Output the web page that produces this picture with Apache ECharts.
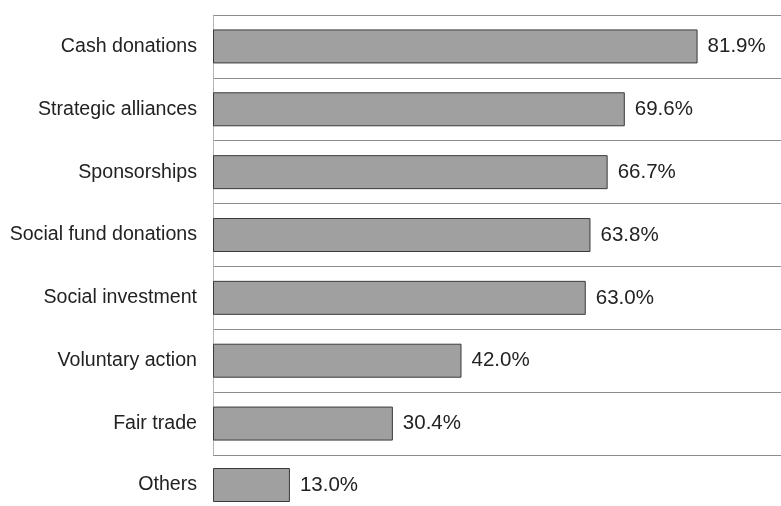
<!DOCTYPE html>
<html>
<head>
<meta charset="utf-8">
<style>
  html, body { margin: 0; padding: 0; background: #fff; }
  #chart { width: 781px; height: 506px; }
</style>
<script src="https://cdn.jsdelivr.net/npm/echarts@6/dist/echarts.min.js"></script>
</head>
<body>
<div id="chart"></div>
<script>
// categories, top to bottom
const categories = ['Cash donations', 'Strategic alliances', 'Sponsorships', 'Social fund donations',
  'Social investment', 'Voluntary action', 'Fair trade', 'Others'];
// share of companies, %
const values = [81.9, 69.6, 66.7, 63.8, 63.0, 42.0, 30.4, 13.0];

// the last row sits below the framed area
const nFramed = 7;

const font = 'Liberation Sans, Arial, Helvetica, sans-serif';
const textColor = '#222';

let barStyle = {
  color: '#a0a0a0',
  borderColor: '#3a3a3a',
  borderWidth: 1
};

let labelStyle = {
  show: true,
  position: 'right',
  distance: 10,
  color: textColor,
  fontFamily: font,
  fontSize: 20.5,
  formatter: p => p.value.toFixed(1) + '%'
};

let catLabel = { margin: 16, color: textColor, fontFamily: font, fontSize: 19.6 };

let option = {
  backgroundColor: '#fff',
  animation: false,
  grid: [
    { left: 213, right: 0, top: 15, height: 440 },
    { left: 213, right: 0, top: 468, height: 34 }
  ],
  xAxis: [
    { type: 'value', gridIndex: 0, min: 0, max: 96, show: false },
    { type: 'value', gridIndex: 1, min: 0, max: 96, show: false }
  ],
  yAxis: [
    {
      type: 'category',
      gridIndex: 0,
      inverse: true,
      data: categories.slice(0, nFramed),
      axisLine: { show: true, lineStyle: { color: '#b4b4b4', width: 1 } },
      axisTick: { show: false },
      axisLabel: catLabel,
      splitLine: { show: true, lineStyle: { color: '#8c8c8c', width: 1 } }
    },
    {
      type: 'category',
      gridIndex: 1,
      inverse: true,
      data: categories.slice(nFramed),
      axisLine: { show: false },
      axisTick: { show: false },
      axisLabel: catLabel,
      splitLine: { show: false }
    }
  ],
  series: [
    {
      type: 'bar',
      xAxisIndex: 0,
      yAxisIndex: 0,
      barWidth: 34,
      data: values.slice(0, nFramed),
      itemStyle: barStyle,
      label: labelStyle
    },
    {
      type: 'bar',
      xAxisIndex: 1,
      yAxisIndex: 1,
      barWidth: 34,
      data: values.slice(nFramed),
      itemStyle: barStyle,
      label: labelStyle
    }
  ]
};

let chart = echarts.init(document.getElementById('chart'));
chart.setOption(option);
</script>
</body>
</html>
